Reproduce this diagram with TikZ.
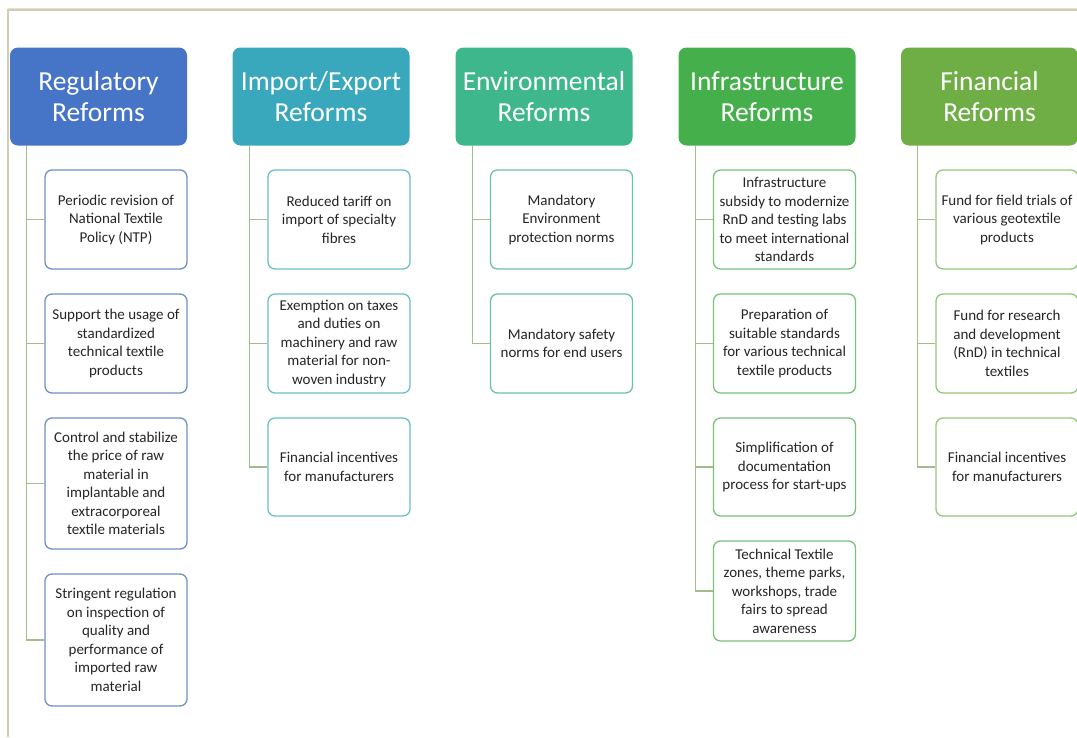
\documentclass[tikz,border=0pt]{standalone}
\usepackage{fontspec}
\setmainfont{Carlito}
\definecolor{hA}{HTML}{4674C6}
\definecolor{hB}{HTML}{3AA8BC}
\definecolor{hC}{HTML}{3EB78D}
\definecolor{hD}{HTML}{45B04B}
\definecolor{hE}{HTML}{6EAE45}
\definecolor{bA}{HTML}{7290C6}
\definecolor{bB}{HTML}{6BBFC8}
\definecolor{bC}{HTML}{6CC3A3}
\definecolor{bD}{HTML}{78C27A}
\definecolor{bE}{HTML}{96C779}
\definecolor{lineC}{HTML}{A3BD8A}
\definecolor{frameC}{HTML}{D3CDB6}
\definecolor{txt}{HTML}{262626}
\tikzset{
  hdr/.style={rounded corners=8pt, minimum width=177pt, minimum height=98pt, align=center,
    text=white, font=\fontsize{27.5}{31.5}\selectfont, inner sep=0pt},
  child/.style={rounded corners=7pt, fill=white, line width=1.3pt, minimum width=142pt,
    align=center, text=txt, font=\fontsize{15}{18.5}\selectfont, inner sep=0pt},
  conn/.style={draw=lineC, line width=1.3pt},
}
\begin{document}
\begin{tikzpicture}[x=1pt,y=-1pt]
\useasboundingbox (0,0) rectangle (1077,737);
\fill[white] (0,0) rectangle (1077,737);
\draw[frameC, line width=1.2pt] (8,737) -- (8,10) -- (1077,10);
\draw[frameC!60, line width=0.8pt] (8,8) -- (1077,8);

% headers
\node[hdr, fill=hA] (h1) at (98.5,96.5) {Regulatory\\Reforms};
\node[hdr, fill=hB] (h2) at (321,96.5) {Import/Export\\Reforms};
\node[hdr, fill=hC] (h3) at (544,96.5) {Environmental\\Reforms};
\node[hdr, fill=hD] (h4) at (767,96.5) {Infrastructure\\Reforms};
\node[hdr, fill=hE] (h5) at (989.5,96.5) {Financial\\Reforms};

% Regulatory
\node[child, draw=bA, minimum height=99pt] (a1) at (116,219.5) {Periodic revision of\\National Textile\\Policy (NTP)};
\node[child, draw=bA, minimum height=99pt] (a2) at (116,343.5) {Support the usage of\\standardized\\technical textile\\products};
\node[child, draw=bA, minimum height=131pt] (a3) at (116,483.5) {Control and stabilize\\the price of raw\\material in\\implantable and\\extracorporeal\\textile materials};
\node[child, draw=bA, minimum height=132pt] (a4) at (116,640) {Stringent regulation\\on inspection of\\quality and\\performance of\\imported raw\\material};

% Import/Export
\node[child, draw=bB, minimum height=99pt] (b1) at (339,219.5) {Reduced tariff on\\import of specialty\\fibres};
\node[child, draw=bB, minimum height=99pt] (b2) at (339,343.5) {Exemption on taxes\\and duties on\\machinery and raw\\material for non-\\woven industry};
\node[child, draw=bB, minimum height=98pt] (b3) at (339,467) {Financial incentives\\for manufacturers};

% Environmental
\node[child, draw=bC, minimum height=99pt] (c1) at (561.5,219.5) {Mandatory\\Environment\\protection norms};
\node[child, draw=bC, minimum height=99pt] (c2) at (561.5,343.5) {Mandatory safety\\norms for end users};

% Infrastructure
\node[child, draw=bD, minimum height=99pt] (d1) at (784.5,219.5) {Infrastructure\\subsidy to modernize\\RnD and testing labs\\to meet international\\standards};
\node[child, draw=bD, minimum height=99pt] (d2) at (784.5,343.5) {Preparation of\\suitable standards\\for various technical\\textile products};
\node[child, draw=bD, minimum height=98pt] (d3) at (784.5,467) {Simplification of\\documentation\\process for start-ups};
\node[child, draw=bD, minimum height=100pt] (d4) at (784.5,591) {Technical Textile\\zones, theme parks,\\workshops, trade\\fairs to spread\\awareness};

% Financial
\node[child, draw=bE, minimum height=99pt] (e1) at (1007,219.5) {Fund for field trials of\\various geotextile\\products};
\node[child, draw=bE, minimum height=99pt] (e2) at (1007,343.5) {Fund for research\\and development\\(RnD) in technical\\textiles};
\node[child, draw=bE, minimum height=98pt] (e3) at (1007,467) {Financial incentives\\for manufacturers};

% connectors
\foreach \h/\list in {h1/{a1,a2,a3,a4}, h2/{b1,b2,b3}, h3/{c1,c2}, h4/{d1,d2,d3,d4}, h5/{e1,e2,e3}}{
  \foreach \c in \list {
    \draw[conn] ([xshift=17pt]\h.south west) |- (\c.west);
  }
}
\end{tikzpicture}
\end{document}
